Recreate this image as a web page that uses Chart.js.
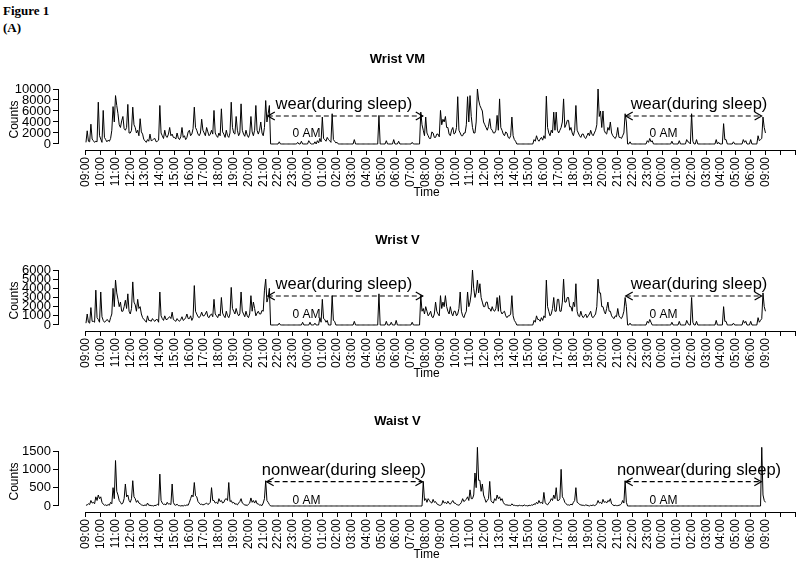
<!DOCTYPE html>
<html><head><meta charset="utf-8">
<script src="https://cdn.jsdelivr.net/npm/chart.js@4.4.1/dist/chart.umd.min.js"></script>
<style>
body{margin:0;background:#fff;width:800px;height:565px;position:relative;overflow:hidden}
.fig{position:absolute;left:3px;font-family:"Liberation Serif","Times New Roman",serif;font-weight:bold;font-size:13px;color:#000;line-height:15px}
canvas{position:absolute;left:0}
</style></head><body>
<div class="fig" style="top:3px">Figure 1</div>
<div class="fig" style="top:20px">(A)</div>
<canvas id="c1" width="800" height="200" style="top:0px"></canvas>
<canvas id="c2" width="800" height="200" style="top:181px"></canvas>
<canvas id="c3" width="800" height="200" style="top:362px"></canvas>
<script>
// ---- data: counts every 5 minutes (12 per row = one hour), starting 09:00 day 1 ----
const SAMPLES_PER_HOUR = 12;
const xTickLabels = ['09:00','10:00','11:00','12:00','13:00','14:00','15:00','16:00','17:00','18:00','19:00','20:00','21:00','22:00','23:00','00:00','01:00','02:00','03:00','04:00','05:00','06:00','07:00','08:00','09:00','10:00','11:00','12:00','13:00','14:00','15:00','16:00','17:00','18:00','19:00','20:00','21:00','22:00','23:00','00:00','01:00','02:00','03:00','04:00','05:00','06:00','09:00','',''];

const wristVM = [
300,2400,500,400,3600,900,600,300,500,400,7600,1500,
900,300,6100,1200,800,400,700,500,1000,2500,6800,4000,
8800,7000,5500,3500,3000,4200,5000,2800,2500,3000,7200,2000,
2000,2500,6700,3500,3000,2000,2500,1500,4600,2200,1800,800,
600,300,800,500,1800,600,700,900,1000,400,500,700,
7000,2000,1500,1000,2500,1400,1200,1800,3000,1500,1800,1200,
1200,900,2000,1100,800,1300,3000,1200,1500,800,1200,2200,
2500,1500,1800,2800,6700,3000,2500,1800,1500,2000,4500,2500,
2000,1500,3000,2200,1500,1800,2500,1800,6100,2000,1500,1200,
2000,1500,6400,2200,1800,1200,2500,1500,1200,2000,7600,3000,
2000,1800,5000,2500,1500,2000,7300,2500,1800,1400,2500,1600,
1200,1800,5000,2200,1500,2500,7000,2500,1800,2500,4000,2000,
1500,3000,7900,4000,5500,7000,0,0,0,0,0,0,
0,400,0,0,0,0,0,0,0,0,0,0,
0,0,0,0,300,0,0,500,0,0,0,0,
0,600,200,0,0,0,400,0,600,200,1000,400,
4900,1000,800,500,1200,800,600,300,5500,800,500,200,
300,0,0,0,0,0,0,0,0,0,0,0,
0,0,800,0,0,0,0,0,0,0,0,0,
0,0,0,0,0,0,0,0,0,0,5200,0,
0,0,0,0,600,0,0,0,0,0,800,0,
0,0,500,0,0,0,0,0,0,0,0,0,
0,300,0,0,0,0,0,0,5800,3500,2500,1500,
4900,2000,1500,1000,1000,2200,2000,1200,1200,1800,1800,1300,
6100,3500,4500,4000,5000,3000,3000,1800,1500,2500,3000,1800,
2000,3000,8600,2500,2000,1500,1500,2000,2000,3500,8600,4000,
8800,5000,3000,2000,2000,4000,10000,8000,7000,6500,6000,4000,
3500,3000,2500,3200,4600,2800,2500,2000,2000,2500,5200,2500,
8200,3000,2500,1800,1500,2200,2000,1200,1000,1500,4900,1500,
800,500,0,0,0,0,0,0,0,0,0,0,
0,0,0,0,800,500,1500,800,500,900,1200,700,
1500,1000,8700,3000,2000,1500,2500,2000,5800,2500,5800,2500,
2000,2500,3000,4000,8200,3000,3500,4300,4300,2500,3000,2000,
1500,2500,7000,2500,2000,1500,1200,1800,1800,1200,1000,1500,
2000,1500,2500,1800,1500,2000,2500,3500,10000,5000,6000,3000,
6000,2500,2000,1800,3000,2500,4000,2000,1500,1200,1000,1500,
3000,1200,1200,1000,1500,2000,5500,4000,0,0,400,0,
0,0,0,0,0,0,0,0,0,0,0,0,
600,300,1000,400,600,0,0,0,0,0,0,0,
0,0,0,0,0,0,0,0,500,0,0,0,
0,0,600,0,0,0,0,0,800,400,300,0,
5500,500,0,0,800,0,0,0,0,0,0,0,
0,0,0,0,0,0,0,0,800,0,300,0,
0,0,3700,800,800,0,0,0,0,0,400,0,
0,0,0,0,0,0,800,300,600,0,0,0,
800,0,0,0,0,0,1500,600,800,1000,4900,3000,
2000];

const wristV = [
200,1200,300,200,1900,400,400,300,3800,800,600,300,
3600,900,500,300,400,600,500,300,800,1200,4000,2000,
4900,3500,2800,2000,2500,1500,1500,2000,2700,1800,3400,1500,
1200,1800,4700,2500,2200,1500,2800,1800,2000,1200,800,600,
500,300,1000,500,500,400,700,500,400,600,600,300,
3600,1000,700,500,1000,600,600,800,900,700,1400,600,
500,400,700,500,400,600,900,500,600,800,1200,700,
700,1000,500,800,4300,1500,1200,900,800,1000,1400,1000,
1000,1200,1500,900,800,1100,1200,900,2800,1200,1000,800,
1200,1000,3000,1300,1000,800,1500,1000,800,1200,4100,1800,
1500,1200,1800,1300,1000,1200,3600,1500,1200,900,1500,1000,
800,1200,3200,1500,2500,1800,1000,1300,1500,1200,1200,1600,
1500,3800,5000,2500,3000,4000,0,0,0,0,0,0,
0,200,0,0,0,0,0,0,0,0,0,0,
0,0,0,0,0,0,0,0,300,0,0,0,
0,0,300,0,0,0,200,0,0,0,800,300,
2800,700,600,300,500,0,0,0,3200,500,400,0,
0,0,0,0,0,0,0,0,0,0,0,0,
0,0,400,0,0,0,0,0,0,0,0,0,
0,0,0,0,0,0,0,0,0,0,3400,0,
0,0,0,0,400,0,0,0,300,0,0,0,
500,0,0,0,0,0,0,0,0,0,0,0,
0,300,0,0,0,0,0,0,3200,1500,1800,1200,
2000,1500,1000,1200,1500,900,800,1200,2500,1500,1200,1000,
3200,1800,2500,2000,3200,2000,1500,1200,2000,1300,1000,1500,
1500,1000,1200,1800,3600,1500,1000,800,1200,1500,3600,2000,
2500,3500,6000,4000,3000,3500,4900,3500,4500,3000,2500,2000,
2000,2500,2500,1800,1800,1500,2000,1600,1500,1800,3000,1500,
3200,1500,1200,1400,1500,1000,800,1000,1000,1200,3200,1000,
500,300,0,0,0,0,0,0,0,0,0,0,
0,0,0,0,500,300,1000,600,600,400,800,500,
1000,800,4900,2000,1500,1000,1200,1800,3000,1500,1500,2800,
2800,1500,1500,2500,5000,2500,2500,3000,3000,2000,2000,1500,
2500,2000,4500,1500,1000,900,1500,1000,800,1000,1200,800,
1000,1200,1500,900,800,1000,1200,2000,5000,3500,3500,2000,
2000,1500,1200,1800,2500,1500,1500,1000,800,700,1000,900,
1800,1000,800,700,1000,1500,3000,2000,0,0,200,0,
0,0,0,0,0,0,0,0,0,0,0,0,
400,200,600,300,0,0,0,0,0,0,0,0,
0,0,0,0,0,0,0,0,300,0,0,0,
0,0,400,0,0,0,0,0,500,200,0,0,
3000,300,0,0,400,0,0,0,0,0,0,0,
0,0,0,0,0,0,0,0,500,0,0,0,
0,0,2000,400,400,0,0,0,0,0,200,0,
0,0,0,0,0,0,500,200,400,0,0,0,
400,0,0,0,0,0,800,300,500,700,3500,2000,
1500];

const waistV = [
20,30,60,40,150,80,100,60,250,150,300,200,
250,100,50,20,30,10,40,20,100,60,500,200,
1240,400,300,150,100,50,80,200,600,250,300,150,
100,200,690,250,200,100,150,80,60,30,20,10,
30,10,80,20,20,10,10,0,20,10,50,20,
870,150,80,40,50,30,100,50,60,40,600,100,
30,20,50,10,10,0,10,0,20,10,30,20,
100,200,300,250,640,280,250,120,80,40,50,30,
40,60,80,40,60,100,500,150,150,80,100,60,
200,120,150,80,100,180,200,150,640,120,150,80,
100,50,60,30,80,120,200,80,60,20,30,10,
50,80,220,100,150,80,150,60,60,20,30,10,
80,200,690,150,100,40,0,0,0,0,0,0,
0,0,0,0,0,0,0,0,0,0,0,0,
0,0,0,0,0,0,0,0,0,0,0,0,
0,0,0,0,0,0,0,0,0,0,0,0,
0,0,0,0,0,0,0,0,0,0,0,0,
0,0,0,0,0,0,0,0,0,0,0,0,
0,0,0,0,0,0,0,0,0,0,0,0,
0,0,0,0,0,0,0,0,0,0,0,0,
0,0,0,0,0,0,0,0,0,0,0,0,
0,0,0,0,0,0,0,0,0,0,0,0,
0,0,0,0,0,0,0,0,0,0,670,150,
200,100,200,150,100,80,180,100,120,60,40,20,
20,40,150,80,100,60,130,70,50,100,150,80,
80,40,30,20,50,100,200,120,150,180,250,150,
440,200,200,300,900,500,1600,700,700,400,600,300,
200,100,150,200,670,150,100,80,200,150,300,200,
250,150,200,100,50,30,30,20,20,10,60,20,
20,10,10,0,20,10,10,0,30,10,10,0,
20,10,30,20,60,40,100,60,150,80,100,60,
370,100,50,30,80,120,200,150,300,200,500,150,
150,200,1000,250,200,100,60,30,30,20,50,30,
100,150,500,100,80,40,30,20,20,10,30,20,
10,0,20,10,30,10,20,60,150,80,100,60,
180,100,120,80,150,120,200,60,30,10,20,10,
10,20,30,60,150,80,690,100,0,0,0,0,
0,0,0,0,0,0,0,0,0,0,0,0,
0,0,0,0,0,0,0,0,0,0,0,0,
0,0,0,0,0,0,0,0,0,0,0,0,
0,0,0,0,0,0,0,0,0,0,0,0,
0,0,0,0,0,0,0,0,0,0,0,0,
0,0,0,0,0,0,0,0,0,0,0,0,
0,0,0,0,0,0,0,0,0,0,0,0,
0,0,0,0,0,0,0,0,0,0,0,0,
0,0,0,0,0,0,0,0,0,1600,300,150,
100];

const yTicksVM = [0,2000,4000,6000,8000,10000];
const yTicksV  = [0,1000,2000,3000,4000,5000,6000];
const yTicksW  = [0,500,1000,1500];
</script>
<script>
const FONT = '"Liberation Sans", Arial, Helvetica, sans-serif';

// R-style axis lines plus the dashed double arrows and notes, positioned through the chart scales
const notesPlugin = {
  id: 'notes',
  afterDatasetsDraw(chart, args, opts) {
    const {ctx, chartArea} = chart;
    const xs = chart.scales.x, ys = chart.scales.y;
    ctx.save();
    ctx.strokeStyle = '#000'; ctx.fillStyle = '#000';
    ctx.lineWidth = 1;
    ctx.beginPath();
    const yb = Math.round(chartArea.bottom) + 0.5;
    ctx.moveTo(xs.getPixelForValue(0), yb);
    ctx.lineTo(xs.getPixelForValue(48), yb);
    const xl = Math.round(chartArea.left) + 0.5;
    ctx.moveTo(xl, ys.getPixelForValue(opts.yTicks[0]));
    ctx.lineTo(xl, ys.getPixelForValue(opts.yTicks[opts.yTicks.length - 1]));
    ctx.stroke();
    (opts.arrows || []).forEach(a => {
      const x1 = xs.getPixelForValue(a.x1), x2 = xs.getPixelForValue(a.x2), y = ys.getPixelForValue(a.y);
      ctx.lineWidth = 1.2;
      ctx.setLineDash([5, 3]);
      ctx.beginPath(); ctx.moveTo(x1, y); ctx.lineTo(x2, y); ctx.stroke();
      ctx.setLineDash([]);
      ctx.beginPath();
      ctx.moveTo(x1 + 7, y - 4); ctx.lineTo(x1, y); ctx.lineTo(x1 + 7, y + 4);
      ctx.moveTo(x2 - 7, y - 4); ctx.lineTo(x2, y); ctx.lineTo(x2 - 7, y + 4);
      ctx.stroke();
    });
    (opts.texts || []).forEach(t => {
      ctx.font = t.size + 'px ' + FONT;
      ctx.textAlign = 'center'; ctx.textBaseline = 'alphabetic';
      ctx.fillText(t.text, xs.getPixelForValue(t.x), ys.getPixelForValue(t.y));
    });
    ctx.restore();
  }
};

function makeChart(id, title, values, yTicks, yMin, notes) {
  const pts = values.map((v, i) => ({x: i / SAMPLES_PER_HOUR, y: v}));
  return new Chart(document.getElementById(id), {
    type: 'line',
    data: {datasets: [{data: pts, borderColor: '#000', borderWidth: 1, pointRadius: 0, tension: 0, fill: false, clip: false}]},
    options: {
      responsive: false, animation: false, events: [],
      layout: {padding: {left: 0, right: 5, top: 0, bottom: 0}},
      plugins: {
        legend: {display: false}, tooltip: {enabled: false},
        title: {display: true, text: title, color: '#000', font: {family: FONT, size: 13, weight: 'bold', lineHeight: 1.2}, padding: {top: 52, bottom: 21.4}},
        notes: Object.assign({yTicks}, notes)
      },
      scales: {
        x: {
          type: 'linear', min: -1.894, max: 48,
          afterBuildTicks: s => { s.ticks = xTickLabels.map((l, i) => ({value: i})); },
          afterFit: s => { s.height = 50; s.paddingLeft = 0; s.paddingRight = 0; },
          ticks: {autoSkip: false, minRotation: 90, maxRotation: 90, padding: 2, color: '#000',
            font: {family: FONT, size: 12}, callback: (v, i) => xTickLabels[i]},
          grid: {display: true, drawOnChartArea: false, drawTicks: true, tickLength: 5, color: '#000', lineWidth: 1},
          border: {display: false},
          title: {display: true, text: 'Time', color: '#000', font: {family: FONT, size: 12}, padding: {top: 0, bottom: 0}}
        },
        y: {
          type: 'linear', min: yMin, max: yTicks[yTicks.length - 1],
          afterBuildTicks: s => { s.ticks = yTicks.map(v => ({value: v})); },
          afterFit: s => { s.width = 58; },
          ticks: {autoSkip: false, padding: 2, color: '#000', font: {family: FONT, size: 13}, callback: v => String(v)},
          grid: {display: true, drawOnChartArea: false, drawTicks: true, tickLength: 5, color: '#000', lineWidth: 1},
          border: {display: false},
          title: {display: true, text: 'Counts', color: '#000', font: {family: FONT, size: 12}, padding: {top: 7, bottom: 0}}
        }
      }
    },
    plugins: [notesPlugin]
  });
}

makeChart('c1', 'Wrist VM', wristVM, yTicksVM, -1091, {
  arrows: [{x1: 12.31, x2: 22.8, y: 5090}, {x1: 36.54, x2: 45.74, y: 5090}],
  texts: [{text: 'wear(during sleep)', x: 17.46, y: 6310, size: 16.5}, {text: 'wear(during sleep)', x: 41.5, y: 6310, size: 16.5},
          {text: '0 AM', x: 14.93, y: 1330, size: 12}, {text: '0 AM', x: 39.1, y: 1330, size: 12}]
});
makeChart('c2', 'Wrist V', wristV, yTicksV, -655, {
  arrows: [{x1: 12.31, x2: 22.8, y: 3164}, {x1: 36.54, x2: 45.74, y: 3164}],
  texts: [{text: 'wear(during sleep)', x: 17.46, y: 3930, size: 16.5}, {text: 'wear(during sleep)', x: 41.5, y: 3930, size: 16.5},
          {text: '0 AM', x: 14.93, y: 730, size: 12}, {text: '0 AM', x: 39.1, y: 730, size: 12}]
});
makeChart('c3', 'Waist V', waistV, yTicksW, -164, {
  arrows: [{x1: 12.23, x2: 22.78, y: 663}, {x1: 36.54, x2: 45.72, y: 663}],
  texts: [{text: 'nonwear(during sleep)', x: 17.46, y: 845, size: 16.5}, {text: 'nonwear(during sleep)', x: 41.5, y: 845, size: 16.5},
          {text: '0 AM', x: 14.93, y: 55, size: 12}, {text: '0 AM', x: 39.1, y: 55, size: 12}]
});
</script>
</body></html>
